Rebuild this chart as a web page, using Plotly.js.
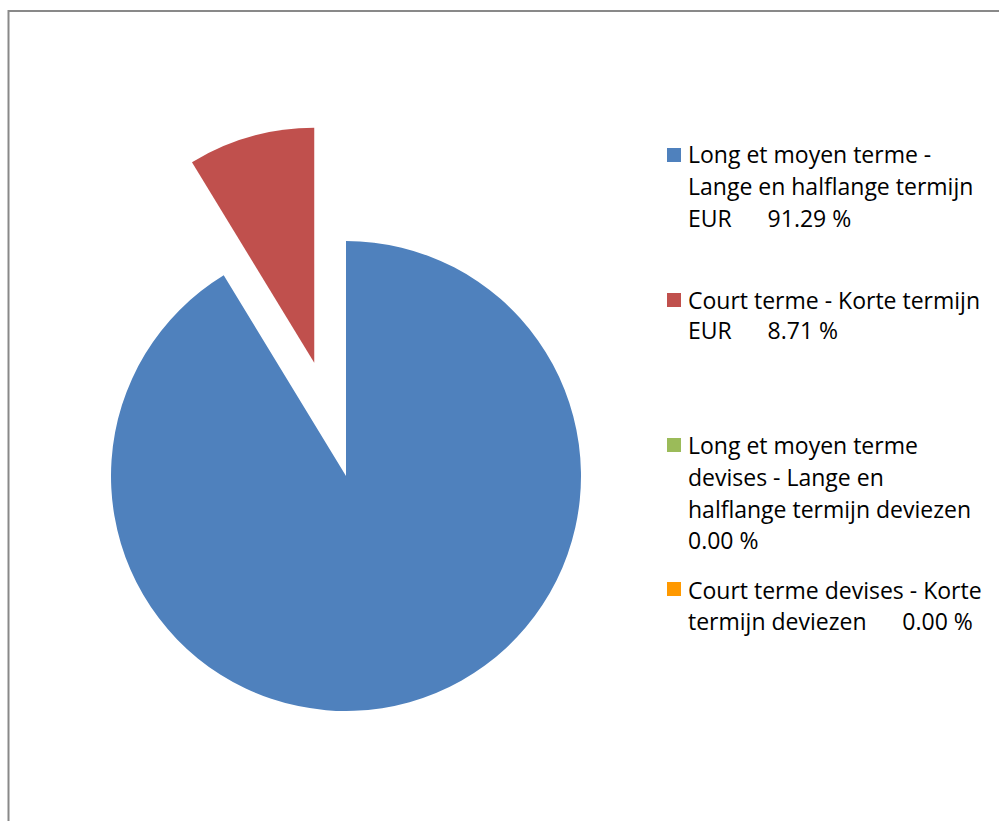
<!DOCTYPE html>
<html>
<head>
<meta charset="utf-8">
<script src="https://cdn.plot.ly/plotly-3.0.1.min.js"></script>
<style>
  html, body { margin: 0; padding: 0; background: #ffffff; overflow: hidden; }
  #chart { position: absolute; left: -20px; top: -20px; width: 1040px; height: 862px; }
</style>
</head>
<body>
<div id="chart"></div>
<script>
// ---- data ----
const categories = [
  "Long et moyen terme - Lange en halflange termijn EUR",
  "Court terme - Korte termijn EUR",
  "Long et moyen terme devises - Lange en halflange termijn deviezen",
  "Court terme devises - Korte termijn deviezen"
];
const values = [91.29, 8.71, 0.00, 0.00];
const colors = ["#4F81BD", "#C0504D", "#9BBB59", "#FF9900"];
const pulls = [0, 0.5, 0, 0];
// legend text lines (last line gets the percentage appended)
const legendLines = [
  ["Long et moyen terme -", "Lange en halflange termijn", "EUR\u00A0\u00A0\u00A0\u00A0\u00A0\u00A0"],
  ["Court terme - Korte termijn", "EUR\u00A0\u00A0\u00A0\u00A0\u00A0\u00A0"],
  ["Long et moyen terme", "devises - Lange en", "halflange termijn deviezen", ""],
  ["Court terme devises - Korte", "termijn deviezen\u00A0\u00A0\u00A0\u00A0\u00A0\u00A0"]
];

// ---- layout helpers (pixel -> paper, page coords) ----
const OFF = 20, W = 1040, H = 862;
const px = x => (x + OFF) / W;
const py = y => 1 - (y + OFF) / H;

const cx = 346, cy = 476, half = 352.5;

const trace = {
  type: "pie",
  labels: categories,
  values: values,
  marker: { colors: colors, line: { width: 0 } },
  pull: pulls,
  sort: false,
  direction: "clockwise",
  rotation: 0,
  textinfo: "none",
  hoverinfo: "label+percent",
  showlegend: false,
  domain: { x: [px(cx - half), px(cx + half)], y: [py(cy + half), py(cy - half)] }
};

const baselines = [[162, 193, 225], [307, 338], [452, 484, 516, 547], [597, 628]];
const markerTops = [148, 293, 438, 582];
const fontSize = 23;

const annotations = [];
const shapes = [];
legendLines.forEach((lines, i) => {
  lines.forEach((ln, j) => {
    let t = ln;
    if (j === lines.length - 1) t = ln + values[i].toFixed(2) + " %";
    annotations.push({
      xref: "paper", yref: "paper",
      x: px(686), y: py(baselines[i][j] - 7.5),
      xanchor: "left", yanchor: "middle",
      text: t, showarrow: false,
      font: { family: "'Open Sans', sans-serif", size: fontSize, color: "#000000" }
    });
  });
  shapes.push({
    type: "rect", xref: "paper", yref: "paper",
    x0: px(667), x1: px(681), y0: py(markerTops[i] + 14), y1: py(markerTops[i]),
    fillcolor: colors[i], line: { width: 0 }
  });
});
// outer chart border
shapes.push({
  type: "rect", xref: "paper", yref: "paper",
  x0: px(8.5), x1: px(1012), y0: py(835), y1: py(11),
  fillcolor: "rgba(0,0,0,0)", line: { color: "#898989", width: 2 }
});

const layout = {
  width: W, height: H,
  margin: { l: 0, r: 0, t: 0, b: 0 },
  paper_bgcolor: "#ffffff",
  plot_bgcolor: "#ffffff",
  showlegend: false,
  annotations: annotations,
  shapes: shapes
};

Plotly.newPlot("chart", [trace], layout, { displayModeBar: false, staticPlot: true });
</script>
</body>
</html>
